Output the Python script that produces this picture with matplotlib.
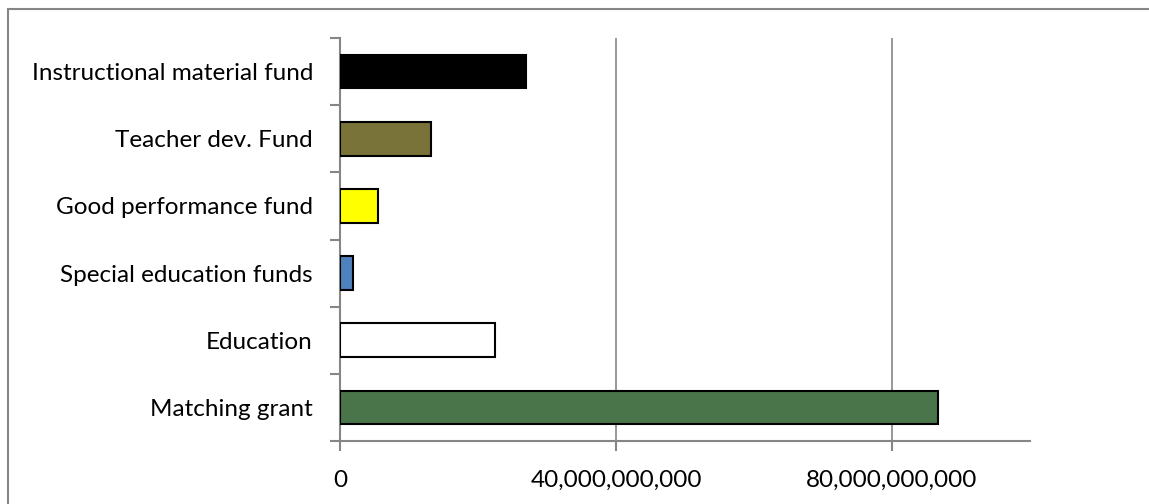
import matplotlib.pyplot as plt
from matplotlib.patches import Rectangle
from matplotlib.ticker import FuncFormatter

# Funding by category (bottom to top)
categories = ["Matching grant", "Education", "Special education funds",
              "Good performance fund", "Teacher dev. Fund",
              "Instructional material fund"]
amounts = [86.7e9, 22.5e9, 1.9e9, 5.5e9, 13.2e9, 26.9e9]
bar_colors = ["#4A7449", "#FFFFFF", "#4F81BD", "#FFFF00", "#7A7339", "#000000"]
x_ticks = [0, 40e9, 80e9]

plt.rcParams['font.family'] = ['Lato', 'DejaVu Sans']

fig = plt.figure(figsize=(11.49, 5.04), dpi=100)
ax = fig.add_axes([0.2959, 0.125, 0.6005, 0.7996])

# outer chart frame
fig.patches.append(Rectangle((8 / 1149, -0.1), 1.2, 1 - 9 / 504 + 0.1,
                             transform=fig.transFigure, fill=False,
                             edgecolor="#868686", linewidth=1.5))

y = range(len(categories))
ax.barh(y, amounts, height=0.5, color=bar_colors, edgecolor="black",
        linewidth=1.5, zorder=3)

ax.set_xlim(0, 100e9)
ax.set_ylim(-0.5, len(categories) - 0.5)
ax.set_xticks(x_ticks)
ax.xaxis.set_major_formatter(FuncFormatter(lambda v, p: f"{v:,.0f}"))
ax.grid(axis="x", color="#868686", linewidth=1.2, zorder=0)

# category labels sit between the boundary tick marks
ax.set_yticks([i - 0.5 for i in range(len(categories) + 1)])
ax.set_yticklabels([])
ax.set_yticks(list(y), minor=True)
ax.set_yticklabels(categories, minor=True)
ax.tick_params(axis="y", which="minor", length=0, pad=19.5, labelsize=17.5)
ax.tick_params(axis="y", which="major", length=7, width=1.5, color="#868686")
ax.tick_params(axis="x", length=7, width=1.5, color="#868686", pad=14,
               labelsize=17.5)

for side in ["top", "right"]:
    ax.spines[side].set_visible(False)
for side in ["left", "bottom"]:
    ax.spines[side].set_color("#868686")
    ax.spines[side].set_linewidth(1.5)

plt.savefig("out.png", dpi=100)
